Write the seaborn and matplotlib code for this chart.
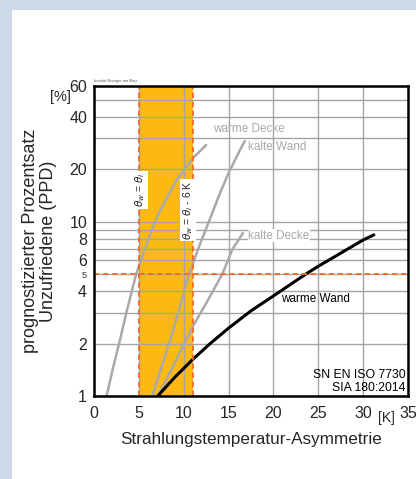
import matplotlib
matplotlib.use("Agg")
import matplotlib.pyplot as plt
from matplotlib.patches import Rectangle
from matplotlib.ticker import FixedLocator
import seaborn as sns

# curves: x = asymmetry [K], y = PPD [%]
warme_decke_x = [1.4, 2.15, 2.9, 3.6, 4.7, 5.5, 6.5, 7.3, 9.2, 11.0, 12.5]
warme_decke_y = [1.0, 1.47, 2.1, 3.0, 5.0, 6.6, 9.1, 11.4, 17.3, 23.1, 27.5]

kalte_wand_x = [6.5, 7.5, 8.5, 9.5, 10.5, 11.8, 13.0, 14.0, 15.0, 16.2, 16.8]
kalte_wand_y = [1.0, 1.45, 2.1, 3.15, 4.85, 7.4, 10.6, 14.4, 19.0, 25.3, 29.0]

kalte_decke_x = [7.15, 9.0, 11.0, 12.5, 14.3, 15.4, 16.6]
kalte_decke_y = [1.0, 1.55, 2.5, 3.4, 5.0, 6.9, 8.6]

warme_wand_x = [7.1, 9.0, 11.0, 13.0, 15.0, 17.5, 20.0, 23.6, 25.0, 27.5, 30.0, 31.2]
warme_wand_y = [1.0, 1.28, 1.62, 2.01, 2.45, 3.08, 3.75, 5.0, 5.55, 6.6, 7.85, 8.4]

band_lo, band_hi = 5, 11      # comfort band (theta_w = theta_i ... theta_i - 6 K)
ppd_limit = 5

y_major = [1, 2, 4, 6, 8, 10, 20, 40, 60]
y_minor = [3, 5, 7, 9, 30, 50]
y_minor_labels = ["", "5", "", "", "", ""]
x_ticks = [0, 5, 10, 15, 20, 25, 30, 35]

sns.set_style("white")
plt.rcParams["font.family"] = ["Liberation Sans", "DejaVu Sans"]

fig = plt.figure(figsize=(4.16, 4.79), dpi=100)
fig.patch.set_facecolor("#cfdae8")
fig.patches.append(Rectangle((12 / 416, 0), 1, 1 - 10 / 479, transform=fig.transFigure,
                             facecolor="white", edgecolor="none", zorder=-1))

ax = fig.add_axes([94 / 416, 83 / 479, 314 / 416, 310 / 479])
ax.set_facecolor("white")
ax.set_yscale("log")
ax.set_xlim(0, 35)
ax.set_ylim(1, 60)

ax.axvspan(band_lo, band_hi, color="#fdb913", lw=0, zorder=0)

ax.set_yticks(y_major)
ax.set_yticklabels([str(v) for v in y_major], fontsize=11.5)
ax.yaxis.set_minor_locator(FixedLocator(y_minor))
ax.set_yticklabels(y_minor_labels, minor=True, fontsize=6.5, color="#333333")
ax.set_xticks(x_ticks)
ax.set_xticklabels([str(v) for v in x_ticks], fontsize=11.5)
ax.tick_params(which="both", length=0, pad=5)
ax.tick_params(axis="x", pad=7)
ax.grid(True, which="both", color="#a4a4a4", lw=1.0, zorder=1)
ax.set_axisbelow(True)

grey = "#a9a9a9"
sns.lineplot(x=warme_decke_x, y=warme_decke_y, ax=ax, color=grey, lw=1.8, sort=False, estimator=None)
sns.lineplot(x=kalte_wand_x, y=kalte_wand_y, ax=ax, color=grey, lw=1.8, sort=False, estimator=None)
sns.lineplot(x=kalte_decke_x, y=kalte_decke_y, ax=ax, color=grey, lw=1.8, sort=False, estimator=None)
sns.lineplot(x=warme_wand_x, y=warme_wand_y, ax=ax, color="black", lw=2.2, sort=False, estimator=None)

orange = "#f26a2a"
for xv in (band_lo, band_hi):
    ax.axvline(xv, color=orange, lw=1.3, ls=(0, (3, 2)), zorder=3)
ax.axhline(ppd_limit, color=orange, lw=1.3, ls=(0, (3, 2)), zorder=3)

for s in ax.spines.values():
    s.set_color("black")
    s.set_linewidth(1.8)
    s.set_zorder(5)

ax.text(13.3, 34, "warme Decke", color=grey, fontsize=8.5, va="center", ha="left")
ax.text(17.2, 26.9, "kalte Wand", color=grey, fontsize=8.5, va="center", ha="left")
ax.text(17.2, 8.3, "kalte Decke", color=grey, fontsize=8.5, va="center", ha="left",
        bbox=dict(facecolor="white", edgecolor="none", pad=0.5))
ax.text(20.8, 3.59, "warme Wand", color="black", fontsize=8.5, va="center", ha="left")
ax.text(34.7, 1.21, "SN EN ISO 7730\nSIA 180:2014", color="black", fontsize=8.8,
        va="center", ha="right", linespacing=1.2)

ax.text(5.15, 15.2, r"$\theta_w$ = $\theta_i$", rotation=90, fontsize=7.5,
        ha="center", va="center", bbox=dict(facecolor="white", edgecolor="none", pad=1))
ax.text(10.5, 11.7, r"$\theta_w$ = $\theta_i$ - 6 K", rotation=90, fontsize=7.5,
        ha="center", va="center", bbox=dict(facecolor="white", edgecolor="none", pad=1))

ax.text(0.0, 1.01, "Institut Energie am Bau", transform=ax.transAxes, fontsize=3,
        color="#555555", ha="left", va="bottom")
ax.text(-0.108, 0.965, "[%]", transform=ax.transAxes, fontsize=10.5, ha="center", va="center")
ax.text(0.93, -0.072, "[K]", transform=ax.transAxes, fontsize=10, ha="center", va="center")

ax.set_xlabel("Strahlungstemperatur-Asymmetrie", fontsize=12.3, labelpad=8)
ax.set_ylabel("prognostizierter Prozentsatz\nUnzufriedene (PPD)", fontsize=13,
              labelpad=9, linespacing=1.05)

fig.savefig("out.png", dpi=100, facecolor=fig.get_facecolor())
